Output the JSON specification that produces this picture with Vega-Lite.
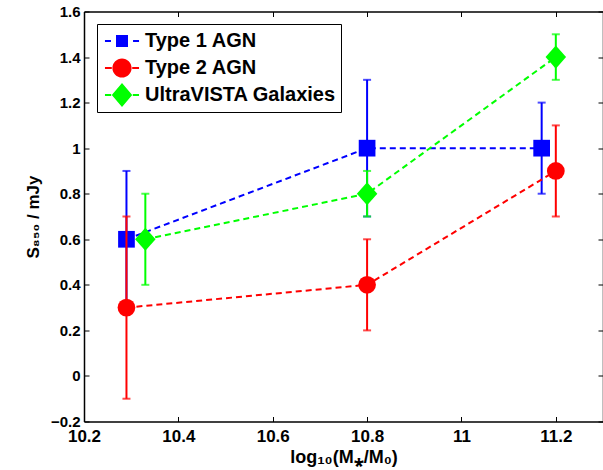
{
  "$schema": "https://vega.github.io/schema/vega-lite/v6.json",
  "autosize": "none",
  "width": 519,
  "height": 410,
  "padding": {"left": 84, "top": 11.5, "right": 0, "bottom": 48.5},
  "background": "white",
  "config": {
    "view": {"stroke": null},
    "axis": {
      "labelFont": "Liberation Sans", "labelFontWeight": "bold", "labelColor": "black",
      "titleFont": "Liberation Sans", "titleFontWeight": "bold", "titleColor": "black",
      "domainColor": "black", "domainWidth": 1.5, "tickColor": "black", "tickWidth": 1,
      "grid": false, "tickSize": -5
    }
  },
  "data": {
    "values": [
      {"series": "Type 1 AGN", "x": 10.29, "y": 0.6, "lo": 0.3, "hi": 0.9},
      {"series": "Type 1 AGN", "x": 10.8, "y": 1.0, "lo": 0.7, "hi": 1.3},
      {"series": "Type 1 AGN", "x": 11.17, "y": 1.0, "lo": 0.8, "hi": 1.2},
      {"series": "Type 2 AGN", "x": 10.29, "y": 0.3, "lo": -0.1, "hi": 0.7},
      {"series": "Type 2 AGN", "x": 10.8, "y": 0.4, "lo": 0.2, "hi": 0.6},
      {"series": "Type 2 AGN", "x": 11.2, "y": 0.9, "lo": 0.7, "hi": 1.1},
      {"series": "UltraVISTA Galaxies", "x": 10.33, "y": 0.6, "lo": 0.4, "hi": 0.8},
      {"series": "UltraVISTA Galaxies", "x": 10.8, "y": 0.8, "lo": 0.7, "hi": 0.9},
      {"series": "UltraVISTA Galaxies", "x": 11.2, "y": 1.4, "lo": 1.3, "hi": 1.5}
    ]
  },
  "resolve": {"axis": {"x": "independent", "y": "independent"}},
  "layer": [
    {
      "layer": [
        {
          "transform": [{"filter": "datum.series === 'Type 1 AGN'"}],
          "layer": [
            {
              "mark": {"type": "line", "strokeDash": [6, 4], "strokeWidth": 2, "color": "#0000ff"},
              "encoding": {
                "x": {"field": "x", "type": "quantitative", "title": "log₁₀(M⁎/M₀)",
                  "scale": {"domain": [10.2, 11.3], "nice": false, "zero": false},
                  "axis": {"orient": "bottom", "values": [10.2, 10.4, 10.6, 10.8, 11, 11.2], "format": ".1~f",
                    "labelFontSize": 17, "labelFlush": false, "labelPadding": 12, "titleFontSize": 18, "titlePadding": 4}},
                "y": {"field": "y", "type": "quantitative", "title": "S₈₅₀ / mJy",
                  "scale": {"domain": [-0.2, 1.6], "nice": false, "zero": false},
                  "axis": {"orient": "left", "values": [-0.2, 0, 0.2, 0.4, 0.6, 0.8, 1, 1.2, 1.4, 1.6], "format": ".1~f",
                    "labelFontSize": 15, "labelPadding": 9, "labelFlush": false, "titleFontSize": 17, "titlePadding": 8}}
              }
            },
            {
              "mark": {"type": "errorbar", "ticks": {"size": 8}, "thickness": 2, "color": "#0000ff"},
              "encoding": {
                "x": {"field": "x", "type": "quantitative", "title": "log₁₀(M⁎/M₀)"},
                "y": {"field": "lo", "type": "quantitative", "title": "S₈₅₀ / mJy"},
                "y2": {"field": "hi"}
              }
            },
            {
              "mark": {"type": "point", "filled": true, "opacity": 1, "shape": "square", "size": 279, "color": "#0000ff"},
              "encoding": {
                "x": {"field": "x", "type": "quantitative", "title": "log₁₀(M⁎/M₀)"},
                "y": {"field": "y", "type": "quantitative", "title": "S₈₅₀ / mJy"}
              }
            }
          ]
        },
        {
          "transform": [{"filter": "datum.series === 'Type 2 AGN'"}],
          "layer": [
            {
              "mark": {"type": "line", "strokeDash": [6, 4], "strokeWidth": 2, "color": "#ff0000"},
              "encoding": {
                "x": {"field": "x", "type": "quantitative", "title": "log₁₀(M⁎/M₀)"},
                "y": {"field": "y", "type": "quantitative", "title": "S₈₅₀ / mJy"}
              }
            },
            {
              "mark": {"type": "errorbar", "ticks": {"size": 8}, "thickness": 2, "color": "#ff0000"},
              "encoding": {
                "x": {"field": "x", "type": "quantitative", "title": "log₁₀(M⁎/M₀)"},
                "y": {"field": "lo", "type": "quantitative", "title": "S₈₅₀ / mJy"},
                "y2": {"field": "hi"}
              }
            },
            {
              "mark": {"type": "point", "filled": true, "opacity": 1, "shape": "circle", "size": 314, "color": "#ff0000"},
              "encoding": {
                "x": {"field": "x", "type": "quantitative", "title": "log₁₀(M⁎/M₀)"},
                "y": {"field": "y", "type": "quantitative", "title": "S₈₅₀ / mJy"}
              }
            }
          ]
        },
        {
          "transform": [{"filter": "datum.series === 'UltraVISTA Galaxies'"}],
          "layer": [
            {
              "mark": {"type": "line", "strokeDash": [6, 4], "strokeWidth": 2, "color": "#00ff00"},
              "encoding": {
                "x": {"field": "x", "type": "quantitative", "title": "log₁₀(M⁎/M₀)"},
                "y": {"field": "y", "type": "quantitative", "title": "S₈₅₀ / mJy"}
              }
            },
            {
              "mark": {"type": "errorbar", "ticks": {"size": 8}, "thickness": 2, "color": "#00ff00"},
              "encoding": {
                "x": {"field": "x", "type": "quantitative", "title": "log₁₀(M⁎/M₀)"},
                "y": {"field": "lo", "type": "quantitative", "title": "S₈₅₀ / mJy"},
                "y2": {"field": "hi"}
              }
            },
            {
              "mark": {"type": "point", "filled": true, "opacity": 1, "shape": "M-1,0L0,-1.13L1,0L0,1.13Z", "size": 420, "color": "#00ff00"},
              "encoding": {
                "x": {"field": "x", "type": "quantitative", "title": "log₁₀(M⁎/M₀)"},
                "y": {"field": "y", "type": "quantitative", "title": "S₈₅₀ / mJy"}
              }
            }
          ]
        }
      ]
    },
    {
      "transform": [{"filter": "false"}],
      "mark": {"type": "point", "filled": true, "opacity": 1, "size": 576},
      "encoding": {
        "x": {"field": "x", "type": "quantitative",
          "axis": {"orient": "top", "values": [10.2, 10.4, 10.6, 10.8, 11, 11.2], "labels": false, "title": null}},
        "y": {"field": "y", "type": "quantitative",
          "axis": {"orient": "right", "values": [-0.2, 0, 0.2, 0.4, 0.6, 0.8, 1, 1.2, 1.4, 1.6], "labels": false, "title": null}},
        "color": {"field": "series", "type": "nominal",
          "scale": {"domain": ["Type 1 AGN", "Type 2 AGN", "UltraVISTA Galaxies"], "range": ["#0000ff", "#ff0000", "#00ff00"]},
          "legend": {"orient": "none", "legendX": 13, "legendY": 12.5, "title": null, "strokeColor": "black", "fillColor": "white",
            "padding": 5, "labelFont": "Liberation Sans", "labelFontSize": 20, "labelFontWeight": "bold", "labelColor": "black",
            "symbolOffset": 8, "labelOffset": 11, "rowPadding": 5, "symbolStrokeWidth": 0, "symbolSize": 576, "labelLimit": 400}},
        "shape": {"field": "series", "type": "nominal",
          "scale": {"domain": ["Type 1 AGN", "Type 2 AGN", "UltraVISTA Galaxies"],
            "range": [
              "M-0.5,-0.5H0.5V0.5H-0.5Z M-1.42,-0.08H-0.92V0.08H-1.42Z M0.92,-0.08H1.42V0.08H0.92Z",
              "M0.8,0A0.8,0.8,0,1,1,-0.8,0A0.8,0.8,0,1,1,0.8,0Z M-1.42,-0.08H-0.85V0.08H-1.42Z M0.85,-0.08H1.42V0.08H0.85Z",
              "M-0.85,0L0,-1L0.85,0L0,1Z M-1.42,-0.08H-0.9V0.08H-1.42Z M0.9,-0.08H1.42V0.08H0.9Z"
            ]},
          "legend": {"orient": "none", "legendX": 13, "legendY": 12.5, "title": null, "strokeColor": "black", "fillColor": "white",
            "padding": 5, "labelFont": "Liberation Sans", "labelFontSize": 20, "labelFontWeight": "bold", "labelColor": "black",
            "symbolOffset": 8, "labelOffset": 11, "rowPadding": 5, "symbolStrokeWidth": 0, "symbolSize": 576, "labelLimit": 400}}
      }
    }
  ]
}
